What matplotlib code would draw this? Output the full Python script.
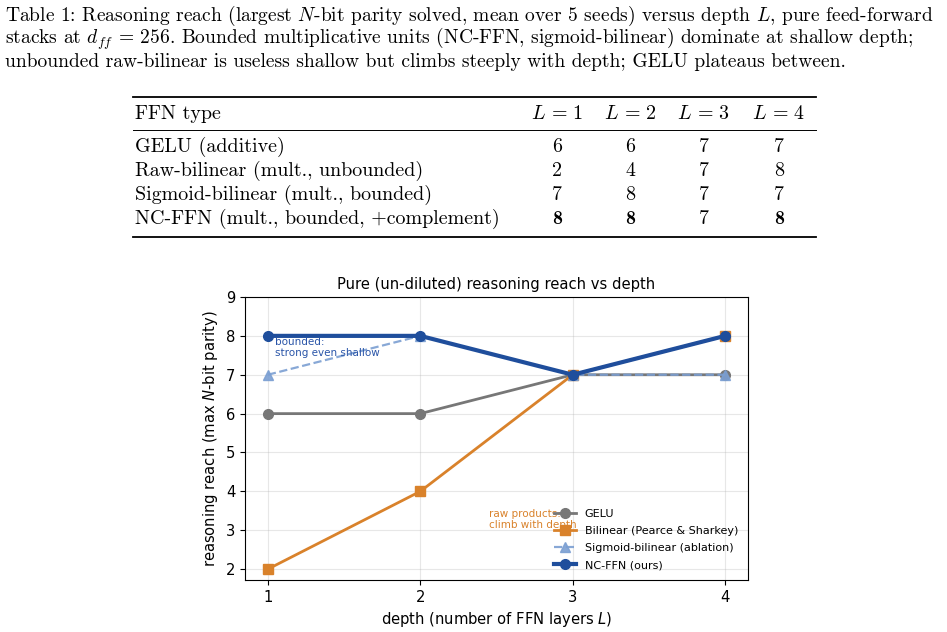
import matplotlib
matplotlib.use("Agg")
import matplotlib.pyplot as plt
from matplotlib.lines import Line2D

plt.rcParams['font.family'] = 'DejaVu Sans'

# ---- data ----
depths = [1, 2, 3, 4]
row_labels = ["GELU (additive)", "Raw-bilinear (mult., unbounded)",
              "Sigmoid-bilinear (mult., bounded)", "NC-FFN (mult., bounded, +complement)"]
gelu = [6, 6, 7, 7]
raw_bilinear = [2, 4, 7, 8]
sigmoid_bilinear = [7, 8, 7, 7]
nc_ffn = [8, 8, 7, 8]
bold_nc = [True, True, False, True]
series_labels = ["GELU", "Bilinear (Pearce & Sharkey)", "Sigmoid-bilinear (ablation)", "NC-FFN (ours)"]

W, H = 947, 632
fig = plt.figure(figsize=(W / 100, H / 100), dpi=100)

def px(x, y):
    return x / W, 1 - y / H

cm_kw = dict(family='cmr10', math_fontfamily='cm', fontsize=14.4, va='baseline')

# ---- caption ----
cap_lines = [
    r"Table 1: Reasoning reach (largest $N$-bit parity solved, mean over 5 seeds) versus depth $L$, pure feed-forward",
    r"stacks at $d_{\mathit{ff}}$ = 256. Bounded multiplicative units (NC-FFN, sigmoid-bilinear) dominate at shallow depth;",
    r"unbounded raw-bilinear is useless shallow but climbs steeply with depth; GELU plateaus between.",
]
cap_kw = dict(cm_kw)
cap_kw['fontsize'] = 14.05
for i, line in enumerate(cap_lines):
    fig.text(*px(5, 21 + 23 * i), line, ha='left', **cap_kw)

# ---- table ----
def hline(y, lw):
    x0, y0 = px(133, y)
    x1, _ = px(816, y)
    fig.add_artist(Line2D([x0, x1], [y0, y0], color='black', lw=lw, transform=fig.transFigure))

hline(97, 1.3)
hline(130, 0.7)
hline(237, 1.3)
col_x = [557, 630, 704, 779]
fig.text(*px(135, 119), "FFN type", **cm_kw)
for d, cx in zip(depths, col_x):
    fig.text(*px(cx, 119), r"$L\,=\,%d$" % d, ha='center', **cm_kw)
table_vals = [gelu, raw_bilinear, sigmoid_bilinear, nc_ffn]
for r, (lab, vals) in enumerate(zip(row_labels, table_vals)):
    y = 152 + 24 * r
    fig.text(*px(135, y), lab, **cm_kw)
    for c, (v, cx) in enumerate(zip(vals, col_x)):
        kw = dict(cm_kw)
        if r == 3 and bold_nc[c]:
            kw['family'] = 'cmb10'
        fig.text(*px(cx, y), str(v), ha='center', **kw)

# ---- chart ----
l, b = px(245, 580)
r_, t = px(748, 297)
ax = fig.add_axes([l, b, r_ - l, t - b])
ax.plot(depths, gelu, color='#777777', marker='o', lw=2, ms=7, label=series_labels[0])
ax.plot(depths, raw_bilinear, color='#d9822b', marker='s', lw=2, ms=7, label=series_labels[1])
ax.plot(depths, sigmoid_bilinear, color='#7b9fd2', marker='^', lw=1.6, ls='--', ms=7, alpha=0.9,
        label=series_labels[2])
ax.plot(depths, nc_ffn, color='#1f4e9c', marker='o', lw=3, ms=7, label=series_labels[3])

ax.text(1.05, 7.98, "bounded:\nstrong even shallow", color='#2a55a8', fontsize=7.5, va='top', ha='left')
ax.text(2.45, 3.55, "raw products:\nclimb with depth", color='#d9822b', fontsize=7.5, va='top', ha='left')

ax.set_xlim(0.85, 4.15)
ax.set_ylim(1.72, 9)
ax.set_xticks(depths)
ax.set_yticks(range(2, 10))
ax.tick_params(labelsize=10.6)
ax.grid(True, alpha=0.3)
ax.set_title("Pure (un-diluted) reasoning reach vs depth", fontsize=10.6)
ax.set_xlabel(r"depth (number of FFN layers $L$)", fontsize=10.6)
ax.set_ylabel(r"reasoning reach (max $N$-bit parity)", fontsize=10.6)
ax.legend(loc='lower right', fontsize=8, frameon=False, labelspacing=0.62)

fig.savefig("out.png", dpi=100)
